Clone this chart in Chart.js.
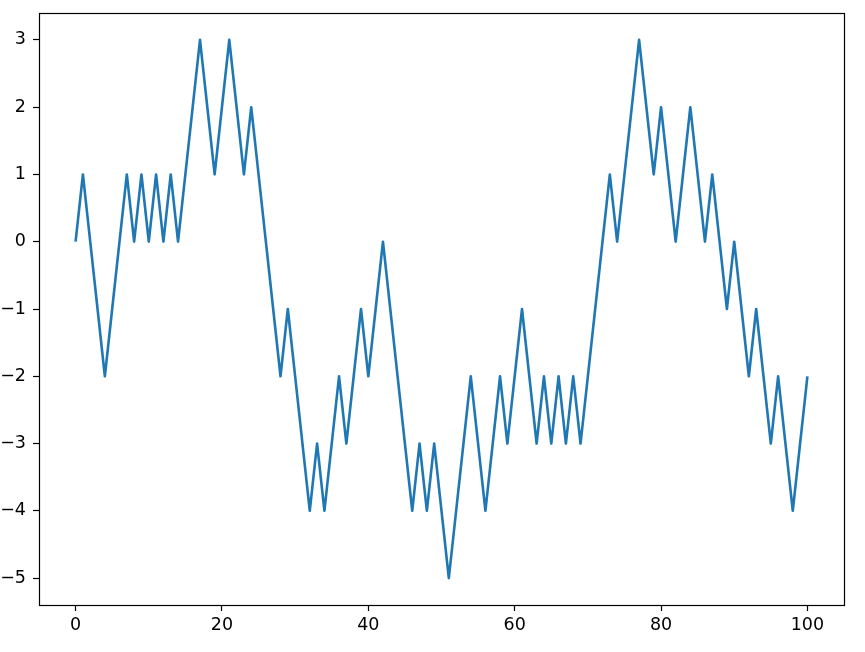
<!DOCTYPE html>
<html>
<head>
<meta charset="utf-8">
<script src="https://cdn.jsdelivr.net/npm/chart.js@4/dist/chart.umd.min.js"></script>
<style>
  html, body { margin: 0; padding: 0; background: #fff; }
  #wrap { width: 865px; height: 652px; position: relative; }
</style>
</head>
<body>
<div id="wrap"><canvas id="c" width="865" height="652"></canvas></div>
<script>
const steps = [0,1,2,3,4,5,6,7,8,9,10,11,12,13,14,15,16,17,18,19,20,21,22,23,24,25,26,27,28,29,30,31,32,33,34,35,36,37,38,39,40,41,42,43,44,45,46,47,48,49,50,51,52,53,54,55,56,57,58,59,60,61,62,63,64,65,66,67,68,69,70,71,72,73,74,75,76,77,78,79,80,81,82,83,84,85,86,87,88,89,90,91,92,93,94,95,96,97,98,99,100];
const walk = [0,1,0,-1,-2,-1,0,1,0,1,0,1,0,1,0,1,2,3,2,1,2,3,2,1,2,1,0,-1,-2,-1,-2,-3,-4,-3,-4,-3,-2,-3,-2,-1,-2,-1,0,-1,-2,-3,-4,-3,-4,-3,-4,-5,-4,-3,-2,-3,-4,-3,-2,-3,-2,-1,-2,-3,-2,-3,-2,-3,-2,-3,-2,-1,0,1,0,1,2,3,2,1,2,1,0,1,2,1,0,1,0,-1,0,-1,-2,-1,-2,-3,-2,-3,-4,-3,-2];
const xTicks = [0, 20, 40, 60, 80, 100];
const yTicks = [-5, -4, -3, -2, -1, 0, 1, 2, 3];

const points = steps.map((s, i) => ({ x: s, y: walk[i] }));

const frame = {
  id: 'frame',
  afterDraw(chart) {
    const a = chart.chartArea, ctx = chart.ctx;
    ctx.save();
    ctx.strokeStyle = '#000';
    ctx.lineWidth = 1.2;
    ctx.strokeRect(Math.round(a.left) + 0.5, Math.round(a.top) + 0.5, Math.round(a.right - a.left), Math.round(a.bottom - a.top));
    ctx.restore();
  }
};

const font = { family: 'DejaVu Sans', size: 17.5 };

new Chart(document.getElementById('c'), {
  type: 'line',
  data: {
    datasets: [{
      data: points,
      borderColor: '#1f77b4',
      borderWidth: 2.6,
      borderJoinStyle: 'round',
      borderCapStyle: 'butt',
      pointRadius: 0,
      tension: 0,
      fill: false
    }]
  },
  options: {
    responsive: false,
    animation: false,
    events: [],
    layout: { padding: { top: 13, right: 21, left: 0, bottom: 0 } },
    plugins: { legend: { display: false }, tooltip: { enabled: false } },
    scales: {
      x: {
        type: 'linear',
        min: -5, max: 105,
        afterBuildTicks(scale) { scale.ticks = xTicks.map(v => ({ value: v })); },
        afterFit(scale) { scale.height = 47; scale.paddingLeft = 0; scale.paddingRight = 0; },
        grid: { display: true, drawOnChartArea: false, drawTicks: true, tickLength: 6, tickWidth: 1.2, tickColor: '#000' },
        border: { display: false },
        ticks: { color: '#000', font: font, padding: 4, maxRotation: 0, autoSkip: false,
          callback: v => String(v).replace('-', '\u2212') }
      },
      y: {
        type: 'linear',
        min: -5.4, max: 3.4,
        afterBuildTicks(scale) { scale.ticks = yTicks.map(v => ({ value: v })); },
        afterFit(scale) { scale.width = 39; scale.paddingTop = 0; scale.paddingBottom = 0; },
        grid: { display: true, drawOnChartArea: false, drawTicks: true, tickLength: 6, tickWidth: 1.2, tickColor: '#000' },
        border: { display: false },
        ticks: { color: '#000', font: font, padding: 7, autoSkip: false,
          callback: v => String(v).replace('-', '\u2212') }
      }
    }
  },
  plugins: [frame]
});
</script>
</body>
</html>
